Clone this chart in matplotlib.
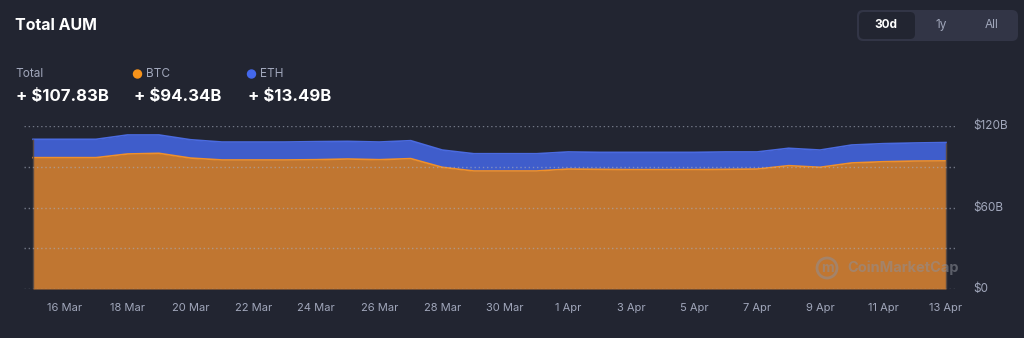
import numpy as np
import pandas as pd
import matplotlib
matplotlib.use("Agg")
import matplotlib.pyplot as plt
from matplotlib.patches import FancyBboxPatch, Circle

plt.rcParams['font.family'] = ['Inter', 'DejaVu Sans']

# daily AUM, billions USD, 15 Mar -> 13 Apr
dates = pd.date_range('2025-03-15', '2025-04-13', freq='D')
btc = [96.7, 96.7, 96.7, 99.4, 99.9, 96.4, 95.0, 95.0, 95.0, 95.2,
       95.7, 95.2, 96.0, 89.6, 86.9, 86.9, 86.9, 88.3, 88.1, 87.9,
       87.9, 87.9, 88.1, 88.3, 90.8, 89.6, 92.8, 93.7, 94.2, 94.34]
eth = [13.5, 13.5, 13.5, 14.0, 13.5, 13.5, 13.2, 13.2, 13.2, 13.3,
       13.0, 13.0, 13.2, 12.7, 12.7, 12.7, 12.7, 12.6, 12.5, 12.7,
       12.7, 12.7, 12.8, 12.6, 12.8, 12.7, 13.2, 13.3, 13.3, 13.49]
y_ticks = [0, 60, 120]
y_tick_labels = ['$0', '$60B', '$120B']
grid_vals = [0, 30, 60, 90, 120]
periods = ['30d', '1y', 'All']

bg = '#222531'
orange_fill = '#c07631'
orange_line = '#f0902a'
blue_fill = '#3f5dcb'
blue_line = '#4a6ae0'
grey = '#a1a7bb'

btc = np.array(btc)
total = btc + np.array(eth)
x = np.arange(len(dates))

fig = plt.figure(figsize=(10.24, 3.38), dpi=100, facecolor=bg)
W, H = 1024, 338
ax = fig.add_axes([24 / W, (H - 289) / H, 931 / W, 163 / H])
ax.set_facecolor(bg)
pad = 9 / (913 / (len(x) - 1))
ax.set_xlim(-pad, len(x) - 1 + pad)
ax.set_ylim(0, 120)

ax.fill_between(x, btc, total, color=blue_fill, lw=0, zorder=2)
ax.fill_between(x, 0, btc, color=orange_fill, lw=0, zorder=2)
ax.plot(x, total, color=blue_line, lw=1.2, zorder=3)
ax.plot(x, btc, color=orange_line, lw=1.2, zorder=3)
ax.vlines([x[0], x[-1]], 0, total[[0, -1]], color='#5a4a44', lw=1, zorder=3)

for g in grid_vals:
    ax.axhline(g, color='#a8aebf', lw=1.0, ls=(0, (1, 2)), alpha=0.6, zorder=4)

for s in ax.spines.values():
    s.set_visible(False)
ax.set_yticks([])
ax.set_xticks([])
for v, lab in zip(y_ticks, y_tick_labels):
    ax.text(973 / W, ax.transData.transform((0, v))[1] / H, lab,
            transform=fig.transFigure, color=grey, fontsize=8.5,
            va='center', ha='left')
for i in range(1, len(x), 2):
    ax.text(x[i], -14, dates[i].strftime('%-d %b'), color=grey, fontsize=8,
            ha='center', va='center', clip_on=False)

# watermark
wm = '#8d8f98'
fig.text(847 / W, 1 - 268 / H, 'CoinMarketCap', color=wm, alpha=0.55,
         fontsize=10.5, fontweight='bold', ha='left', va='center', zorder=5)
fig.patches.append(Circle((827, H - 268), 10, transform=None, fill=False,
                          ec=wm, alpha=0.55, lw=2, zorder=5))
fig.text(827 / W, 1 - 268 / H, 'm', color=wm, alpha=0.55, fontsize=10,
         fontweight='bold', ha='center', va='center', zorder=5)

# header
fig.text(15 / W, 1 - 25 / H, 'Total AUM', color='white', fontsize=11.5,
         fontweight='bold', va='center')
legend = [('Total', None, 15, '$107.83B'),
          ('BTC', '#f7931a', 133, '$94.34B'),
          ('ETH', '#4468ec', 247, '$13.49B')]
for name, col, px, val in legend:
    tx = px
    if col is not None:
        fig.patches.append(Circle((px + 4 + 0.5, H - 74), 4, transform=None,
                                  color=col))
        tx = px + 13
    fig.text(tx / W, 1 - 74 / H, name, color=grey, fontsize=8.5, va='center')
    fig.text((px + 1) / W, 1 - 96 / H, '+ ' + val, color='white',
             fontsize=12, fontweight='bold', va='center')

# period selector
fig.patches.append(FancyBboxPatch((857, H - 41), 161, 31,
                                  boxstyle='round,pad=0,rounding_size=6',
                                  transform=None, fc='#323546', ec='none'))
fig.patches.append(FancyBboxPatch((859, H - 39), 56, 27,
                                  boxstyle='round,pad=0,rounding_size=5',
                                  transform=None, fc=bg, ec='none'))
for lab, px in zip(periods, [886, 941, 992]):
    sel = lab == '30d'
    fig.text(px / W, 1 - 25 / H, lab, color='white' if sel else grey,
             fontsize=8.5, fontweight='bold' if sel else 'normal',
             ha='center', va='center')

fig.savefig('out.png', dpi=100, facecolor=bg)
